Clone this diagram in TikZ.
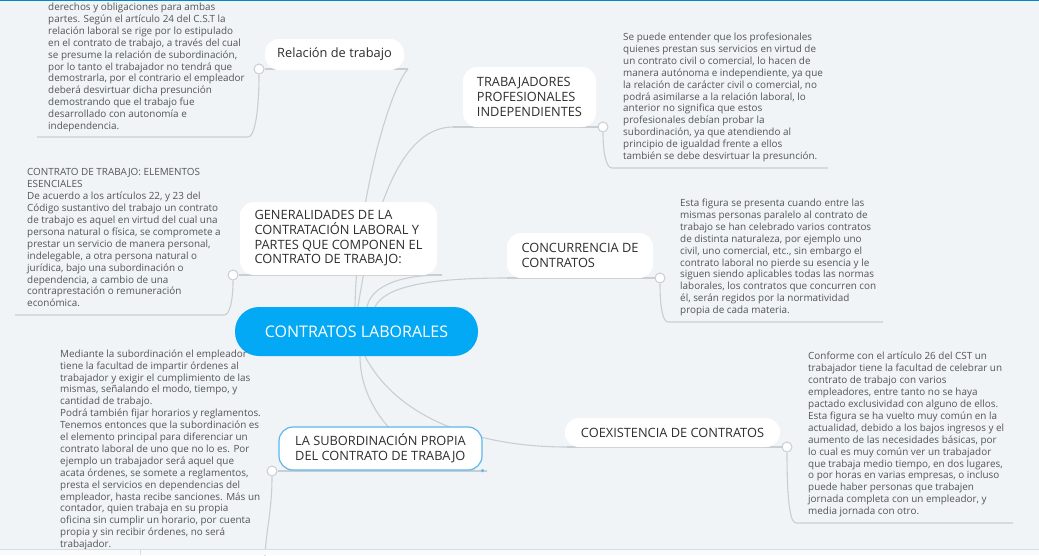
\documentclass[tikz,border=0pt]{standalone}
\usepackage{fontspec}
\setmainfont{Open Sans}
\usetikzlibrary{positioning}
\definecolor{mybg}{HTML}{F0F4F7}
\definecolor{mylinegray}{HTML}{C9CED3}
\definecolor{mytopictext}{HTML}{2E2E2E}
\definecolor{mynotetext}{HTML}{555555}
\definecolor{myblue}{HTML}{03A9F4}
\definecolor{myselblue}{HTML}{5DB7EC}
\pgfdeclarelayer{bgfill}
\pgfdeclarelayer{links}
\pgfsetlayers{bgfill,links,main}

\begin{document}
\begin{tikzpicture}[x=1pt, y=-1pt,
  topic/.style={fill=white, rounded corners=14pt, text=mytopictext, font=\fontsize{12.8}{14.7}\selectfont, align=left, inner sep=0pt},
  notetext/.style={anchor=north west, inner sep=0pt, text=mynotetext, font=\fontsize{9.9}{11.9}\selectfont, align=left},
  branch/.style={draw=mylinegray, line width=1.1pt},
  knob/.style={circle, draw=mylinegray, fill=white, line width=1pt, minimum size=10pt, inner sep=0pt}]
  \useasboundingbox (0,0) rectangle (1039,555);
  \begin{pgfonlayer}{bgfill}
    \fill[mybg] (0,0) rectangle (1039,555);
  \end{pgfonlayer}

  % Central topic
  \node[fill=myblue, rounded corners=24pt, minimum width=243pt, minimum height=49pt, text=white, font=\fontsize{16}{18}\selectfont] (central) at (356.5,331.5) {CONTRATOS LABORALES};

  % Left topics
  \node[topic, minimum width=139pt, minimum height=31pt] (relacion) at (334.5,54.5) {Relación de trabajo};
  \node[topic, minimum width=197pt, minimum height=73pt] (generalidades) at (338.5,238.5) {GENERALIDADES DE LA\\CONTRATACIÓN LABORAL Y\\PARTES QUE COMPONEN EL\\CONTRATO DE TRABAJO:};
  \node[topic, draw=myselblue, line width=1.2pt, minimum width=203pt, minimum height=43pt] (subordinacion) at (380.5,448.5) {LA SUBORDINACIÓN PROPIA\\DEL CONTRATO DE TRABAJO};
  \node[circle, fill=myselblue, inner sep=0pt, minimum size=3.5pt] (subhandle) at (subordinacion.south east) {};

  % Right topics
  \node[topic, minimum width=133pt, minimum height=60pt] (trabajadores) at (529.5,97) {TRABAJADORES\\PROFESIONALES\\INDEPENDIENTES};
  \node[topic, minimum width=146pt, minimum height=45pt] (concurrencia) at (580,255.5) {CONCURRENCIA DE\\CONTRATOS};
  \node[topic, minimum width=215pt, minimum height=29pt] (coexistencia) at (672.5,432.5) {COEXISTENCIA DE CONTRATOS};

  % Underline ends and knobs
  \coordinate (relend) at (408,69);
  \coordinate (genend) at (442,275);
  \coordinate (subend) at (487,471);
  \coordinate (trabend) at (453,127);
  \coordinate (concend) at (507,278);
  \coordinate (coexend) at (567,447);
  \node[knob] (relknob) at (259,69) {};
  \node[knob] (genknob) at (233,275) {};
  \node[knob] (subknob) at (272,471) {};
  \node[knob] (trabknob) at (603,127) {};
  \node[knob] (concknob) at (660,278) {};
  \node[knob] (coexknob) at (787,447) {};

  % Notes
  \node[notetext] (relaciontext) at (48,2) {\strut derechos y obligaciones para ambas\\partes. Según el artículo 24 del C.S.T la\\relación laboral se rige por lo estipulado\\en el contrato de trabajo, a través del cual\\se presume la relación de subordinación,\\por lo tanto el trabajador no tendrá que\\demostrarla, por el contrario el empleador\\deberá desvirtuar dicha presunción\\demostrando que el trabajo fue\\desarrollado con autonomía e\\independencia.};
  \node[notetext] (generalidadestext) at (27,167.4) {\strut CONTRATO DE TRABAJO: ELEMENTOS\\ESENCIALES\\De acuerdo a los artículos 22, y 23 del\\Código sustantivo del trabajo un contrato\\de trabajo es aquel en virtud del cual una\\persona natural o física, se compromete a\\prestar un servicio de manera personal,\\indelegable, a otra persona natural o\\jurídica, bajo una subordinación o\\dependencia, a cambio de una\\contraprestación o remuneración\\económica.};
  \node[notetext] (subordinaciontext) at (60,348.7) {\strut Mediante la subordinación el empleador\\tiene la facultad de impartir órdenes al\\trabajador y exigir el cumplimiento de las\\mismas, señalando el modo, tiempo, y\\cantidad de trabajo.\\Podrá también fijar horarios y reglamentos.\\Tenemos entonces que la subordinación es\\el elemento principal para diferenciar un\\contrato laboral de uno que no lo es. Por\\ejemplo un trabajador será aquel que\\acata órdenes, se somete a reglamentos,\\presta el servicios en dependencias del\\empleador, hasta recibe sanciones. Más un\\contador, quien trabaja en su propia\\oficina sin cumplir un horario, por cuenta\\propia y sin recibir órdenes, no será\\trabajador.};
  \node[notetext] (trabajadorestext) at (623,32) {\strut Se puede entender que los profesionales\\quienes prestan sus servicios en virtud de\\un contrato civil o comercial, lo hacen de\\manera autónoma e independiente, ya que\\la relación de carácter civil o comercial, no\\podrá asimilarse a la relación laboral, lo\\anterior no significa que estos\\profesionales debían probar la\\subordinación, ya que atendiendo al\\principio de igualdad frente a ellos\\también se debe desvirtuar la presunción.};
  \node[notetext] (concurrenciatext) at (680,198) {\strut Esta figura se presenta cuando entre las\\mismas personas paralelo al contrato de\\trabajo se han celebrado varios contratos\\de distinta naturaleza, por ejemplo uno\\civil, uno comercial, etc., sin embargo el\\contrato laboral no pierde su esencia y le\\siguen siendo aplicables todas las normas\\laborales, los contratos que concurren con\\él, serán regidos por la normatividad\\propia de cada materia.};
  \node[notetext] (coexistenciatext) at (808,351.4) {\strut Conforme con el artículo 26 del CST un\\trabajador tiene la facultad de celebrar un\\contrato de trabajo con varios\\empleadores, entre tanto no se haya\\pactado exclusividad con alguno de ellos.\\Esta figura se ha vuelto muy común en la\\actualidad, debido a los bajos ingresos y el\\aumento de las necesidades básicas, por\\lo cual es muy común ver un trabajador\\que trabaja medio tiempo, en dos lugares,\\o por horas en varias empresas, o incluso\\puede haber personas que trabajen\\jornada completa con un empleador, y\\media jornada con otro.};

  \coordinate (relfoot) at (37,137);
  \coordinate (genfoot) at (15,315);
  \coordinate (subfoot) at (265,556);
  \coordinate (trabfoot) at (828,168);
  \coordinate (concfoot) at (883,322);
  \coordinate (coexfoot) at (1013,523);

  \begin{pgfonlayer}{links}
    % Central to topics
    \draw[branch] ([xshift=-1.5pt]central.north) .. controls +(2,-107) and +(-18,19) .. (relend);
    \draw[branch] ([xshift=1.5pt]central.north) .. controls +(12,-77) and +(-58,0) .. (trabend);
    \draw[branch] ([xshift=10.5pt]central.north) .. controls +(5,-22) and +(-40,0) .. (genend);
    \draw[branch] ([xshift=18.5pt]central.north) .. controls +(10,-20) and +(-80,0) .. (concend);
    \draw[branch] ([xshift=3.5pt]central.south) .. controls +(0,60) and +(-70,0) .. (subend);
    \draw[branch] ([xshift=8.5pt]central.south) .. controls +(30,58) and +(-97,0) .. (coexend);

    % Underlines
    \draw[branch] (relknob) -- (relend);
    \draw[branch] (genknob) -- (genend);
    \draw[branch] (subknob) -- (subend);
    \draw[branch] (trabend) -- (trabknob);
    \draw[branch] (concend) -- (concknob);
    \draw[branch] (coexend) -- (coexknob);

    % Knobs to notes
    \draw[branch] (relknob) .. controls +(0,41) and +(7,0) .. (248,137) -- (relfoot);
    \draw[branch] (genknob) .. controls +(0,25) and +(6,0) .. (224,315) -- (genfoot);
    \draw[branch] (subknob) .. controls +(0,40) and +(1,-25) .. (subfoot);
    \draw[branch] (trabknob) .. controls +(0,25) and +(-6,0) .. (612,168) -- (trabfoot);
    \draw[branch] (concknob) .. controls +(0,25) and +(-6,0) .. (668,322) -- (concfoot);
    \draw[branch] (coexknob) .. controls +(0,45) and +(-7,0) .. (796,523) -- (coexfoot);
  \end{pgfonlayer}

  % Window edges
  \fill[myblue!80!black] (0,0) rectangle (1039,1.2);
  \fill[white!60!mybg] (0,549) rectangle (1039,555);
  \draw[mylinegray!70, line width=0.6pt] (0,549) -- (1039,549);
  \draw[mylinegray!70, line width=0.6pt] (140,549) -- (140,555);
\end{tikzpicture}
\end{document}
